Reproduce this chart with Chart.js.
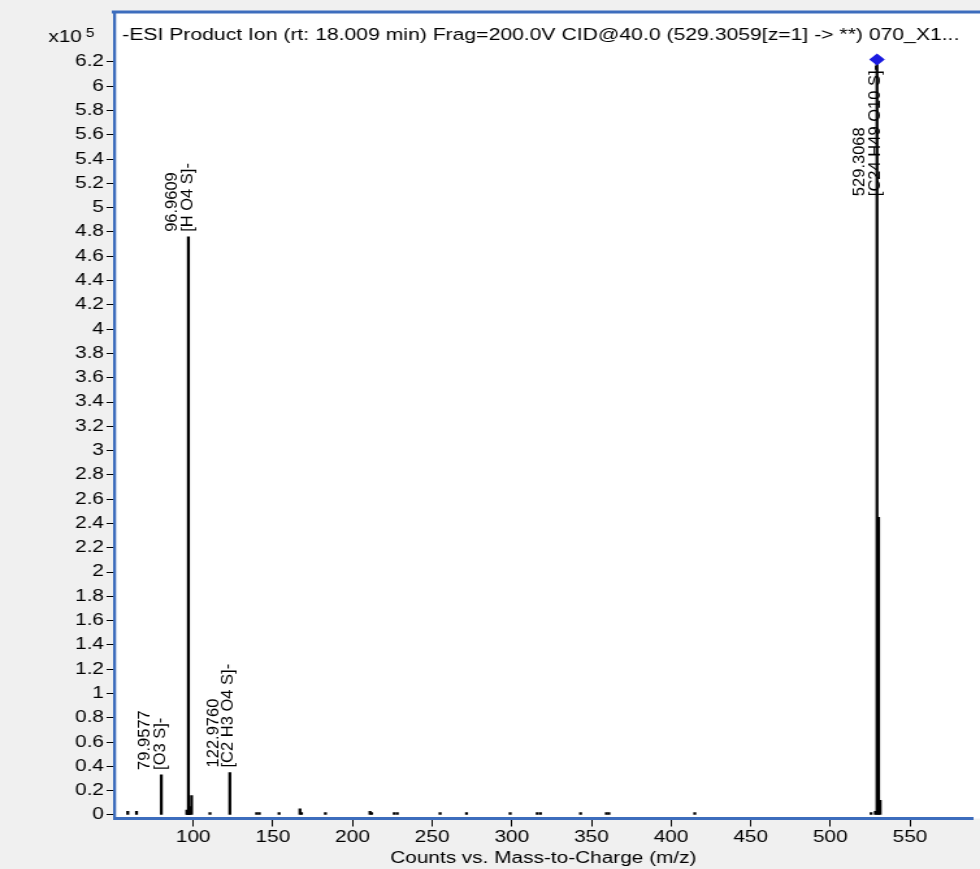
<!DOCTYPE html>
<html>
<head>
<meta charset="utf-8">
<script src="https://cdn.jsdelivr.net/npm/chart.js@4.4.1/dist/chart.umd.min.js"></script>
<style>
  html, body { margin: 0; padding: 0; background: #f0f0f0; overflow: hidden; }
  #spec { display: block; }
</style>
</head>
<body>
<!-- drawn at 754px wide and stretched to 980px, like the source screenshot -->
<canvas id="spec" width="754" height="869" style="width:980px;height:869px"></canvas>
<script>
// product ion spectrum, m/z and counts (x10^5)
const peakMz = [58.9, 64.4, 79.9577, 95.95, 96.45, 96.9609, 97.45, 97.96, 98.96, 110.5,
  122.976, 139.8, 141.5, 153.9, 167.0, 168.0, 183.0, 211.0, 212.0, 226.2, 228.1, 255.0,
  271.6, 299.0, 316.0, 318.0, 343.2, 359.4, 361.0, 414.9, 525.6, 528.3, 529.3068,
  530.31, 531.3];
const peakCounts = [0.03, 0.03, 0.33, 0.04, 0.03, 4.76, 0.04, 0.07, 0.16, 0.02,
  0.35, 0.02, 0.02, 0.02, 0.05, 0.02, 0.02, 0.03, 0.02, 0.02, 0.02, 0.02,
  0.02, 0.02, 0.02, 0.02, 0.02, 0.02, 0.02, 0.02, 0.02, 0.03, 6.22,
  2.45, 0.12];

// annotated peaks
const labelMz = [79.9577, 96.9609, 122.976, 529.3068];
const labelFormula = ["[O3 S]-", "[H O4 S]-", "[C2 H3 O4 S]-", "[C24 H49 O10 S]-"];

// precursor marker
const precursorMz = [529.3068];
const precursorCounts = [6.22];

const xTicks = [100, 150, 200, 250, 300, 350, 400, 450, 500, 550];
const yTicks = [0, 0.2, 0.4, 0.6, 0.8, 1, 1.2, 1.4, 1.6, 1.8, 2, 2.2, 2.4, 2.6, 2.8, 3,
  3.2, 3.4, 3.6, 3.8, 4, 4.2, 4.4, 4.6, 4.8, 5, 5.2, 5.4, 5.6, 5.8, 6, 6.2];

const title = "-ESI Product Ion (rt: 18.009 min) Frag=200.0V CID@40.0 (529.3059[z=1] -> **) 070_X1...";
const xTitle = "Counts vs. Mass-to-Charge (m/z)";

const blue = "#3d6dbd";
const face = "'Liberation Sans', Arial, sans-serif";

const frame = {
  id: "frame",
  beforeDraw(chart) {
    const { ctx, chartArea: a } = chart;
    ctx.save();
    ctx.fillStyle = "#f0f0f0";
    ctx.fillRect(0, 0, chart.width, chart.height);
    ctx.fillStyle = "#ffffff";
    ctx.fillRect(a.left - 1, 11, chart.width, a.bottom - 11);
    ctx.strokeStyle = blue;
    ctx.lineWidth = 3;
    ctx.beginPath();
    ctx.moveTo(a.left - 2, 12);
    ctx.lineTo(chart.width, 12);
    ctx.stroke();

    ctx.fillStyle = "#000";
    ctx.font = "16.3px " + face;
    ctx.textBaseline = "middle";
    ctx.textAlign = "left";
    ctx.fillText(title, 94, 36);

    ctx.font = "16px " + face;
    ctx.textBaseline = "alphabetic";
    ctx.textAlign = "right";
    ctx.fillText("x10", 63, 42);
    ctx.textAlign = "left";
    ctx.font = "12px " + face;
    ctx.fillText("5", 66, 37);
    ctx.restore();
  },
  afterDatasetsDraw(chart) {
    const { ctx, chartArea: a } = chart;
    const xs = chart.scales.x, ys = chart.scales.y;
    ctx.save();
    ctx.font = "16.5px " + face;
    ctx.fillStyle = "#000";
    ctx.textAlign = "left";
    ctx.textBaseline = "alphabetic";
    labelMz.forEach((mz, i) => {
      const j = peakMz.indexOf(mz);
      const px = xs.getPixelForValue(mz);
      const top = ys.getPixelForValue(peakCounts[j]);
      const mass = mz.toFixed(4);
      const len = Math.max(ctx.measureText(mass).width, ctx.measureText(labelFormula[i]).width);
      const bottom = Math.max(top - 5, a.top + 52 + len);
      [[mass, px - 9.3], [labelFormula[i], px + 2.6]].forEach(([t, bx]) => {
        ctx.save();
        ctx.translate(bx, bottom);
        ctx.rotate(-Math.PI / 2);
        ctx.scale(1, 0.8);
        ctx.fillText(t, 0, 0);
        ctx.restore();
      });
    });
    ctx.restore();
  },
};

new Chart(document.getElementById("spec"), {
  type: "bar",
  data: {
    datasets: [
      {
        data: peakMz.map((m, i) => ({ x: m, y: peakCounts[i] })),
        backgroundColor: "#000",
        barThickness: 1.6,
        order: 2,
      },
      {
        type: "scatter",
        data: precursorMz.map((m, i) => ({ x: m, y: precursorCounts[i] })),
        pointStyle: "rectRot",
        pointRadius: 6,
        backgroundColor: "#1a1ae0",
        borderColor: "#1a1ae0",
        borderWidth: 0,
        order: 1,
      },
    ],
  },
  options: {
    responsive: false,
    animation: false,
    devicePixelRatio: 1,
    layout: { padding: { top: 13, right: 0, bottom: 0, left: 0 } },
    plugins: { legend: { display: false }, tooltip: { enabled: false } },
    scales: {
      x: {
        type: "linear",
        offset: false,
        min: 50.5,
        max: 589.1,
        afterFit: (s) => { s.height = 50.5; },
        afterBuildTicks: (s) => { s.ticks = xTicks.map((v) => ({ value: v })); },
        border: { display: true, color: blue, width: 3 },
        grid: { offset: false, drawOnChartArea: false, drawTicks: true, tickLength: 8, tickColor: "#000", tickWidth: 1 },
        ticks: { color: "#000", font: { family: face, size: 16 }, padding: 1, maxRotation: 0, autoSkip: false },
        title: { display: true, text: xTitle, color: "#000", font: { family: face, size: 16 }, padding: { top: 0, bottom: 1 } },
      },
      y: {
        min: -0.029,
        max: 6.603,
        afterFit: (s) => { s.width = 88; },
        afterBuildTicks: (s) => { s.ticks = yTicks.map((v) => ({ value: v })); },
        border: { display: true, color: blue, width: 2.3 },
        grid: { drawOnChartArea: false, drawTicks: true, tickLength: 6, tickColor: "#000", tickWidth: 1 },
        ticks: {
          color: "#000",
          font: { family: face, size: 16 },
          padding: 2,
          autoSkip: false,
          callback: (v) => String(Math.round(v * 10) / 10),
        },
      },
    },
  },
  plugins: [frame],
});
</script>
</body>
</html>
